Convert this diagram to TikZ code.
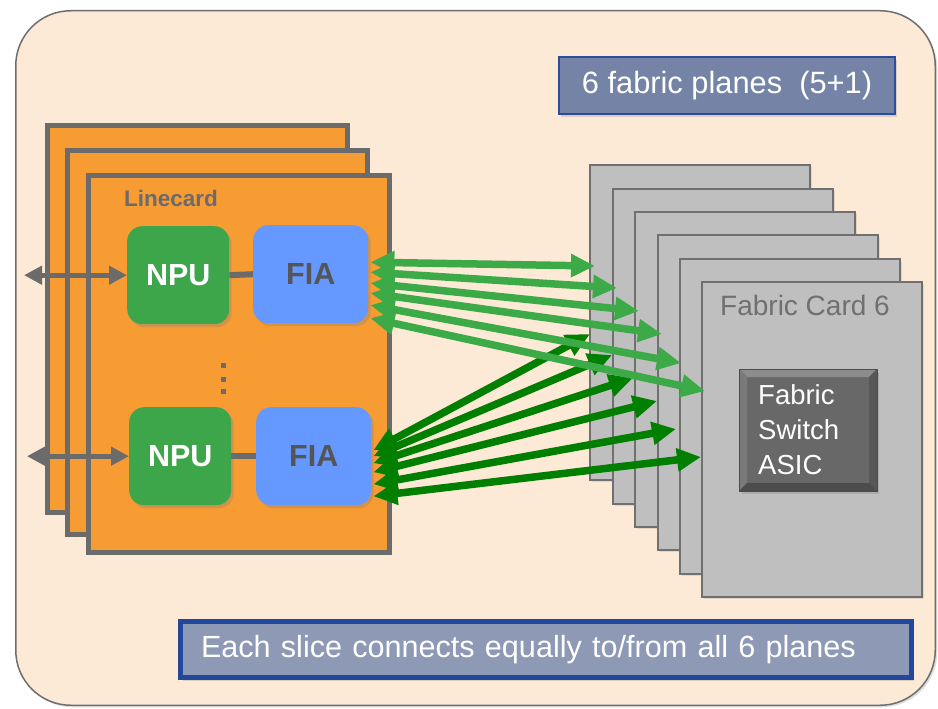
\documentclass[tikz,border=0pt]{standalone}
\usepackage{fontspec}
\setmainfont{Liberation Sans}
\usetikzlibrary{arrows.meta,shadows,calc}

\definecolor{pagebg}{HTML}{FCEAD6}
\definecolor{framegray}{HTML}{6E6E6E}
\definecolor{cardorange}{HTML}{F79B33}
\definecolor{cardedge}{HTML}{6B6B6B}
\definecolor{npugreen}{HTML}{3EA64A}
\definecolor{fiablue}{HTML}{6699FF}
\definecolor{fiatext}{HTML}{555555}
\definecolor{fabgray}{HTML}{BFBFBF}
\definecolor{fabedge}{HTML}{707070}
\definecolor{asicface}{HTML}{686868}
\definecolor{slatefill}{HTML}{7584A6}
\definecolor{slateedge}{HTML}{2C4C9C}
\definecolor{notefill}{HTML}{8E99B6}
\definecolor{noteedge}{HTML}{23479A}
\definecolor{lightlink}{HTML}{3DAA48}
\definecolor{darklink}{HTML}{007F00}

\tikzset{
  px/.style={font=\fontsize{#1}{#1}\selectfont},
  outerframe/.style={draw=framegray, line width=1.5pt, fill=pagebg, rounded corners=55pt,
    anchor=north west, inner sep=0pt,
    drop shadow={shadow xshift=2pt, shadow yshift=-2pt, opacity=.25}},
  linecard/.style={draw=cardedge, line width=5pt, fill=cardorange, anchor=north west,
    inner sep=0pt, minimum width=300pt},
  chip/.style={rounded corners=15pt, anchor=north west, inner sep=0pt,
    font=\fontsize{30.5}{30.5}\selectfont\bfseries,
    drop shadow={shadow xshift=2.5pt, shadow yshift=-3pt, opacity=.3}},
  fabcard/.style={draw=fabedge, line width=2pt, fill=fabgray, anchor=north west,
    inner sep=0pt, minimum width=220pt, minimum height=315pt,
    drop shadow={shadow xshift=2pt, shadow yshift=-2pt, opacity=.2}},
  slicewire/.style={draw=cardedge, line width=6pt},
  graylink/.style={draw=cardedge, line width=5pt,
    {Triangle[length=18pt,width=18pt]}-{Triangle[length=18pt,width=18pt]}},
  fablink/.style={line width=7.5pt,
    {Triangle[length=24pt,width=22pt]}-{Triangle[length=24pt,width=22pt]}},
  labelbox/.style={anchor=north west, inner sep=0pt, text=white,
    drop shadow={shadow xshift=2pt, shadow yshift=-3pt, opacity=.25}}
}

\begin{document}
\begin{tikzpicture}[x=1pt,y=-1pt]
\useasboundingbox (0,0) rectangle (938,709);
\fill[white] (0,0) rectangle (938,709);

% chassis outline
\node[outerframe, minimum width=919.5pt, minimum height=694.5pt] (chassis) at (15,10) {};

% stacked linecards
\node[linecard, minimum height=387pt] (lc3) at (45,123) {};
\node[linecard, minimum height=384pt] (lc2) at (65,148) {};
\node[linecard, minimum width=301pt, minimum height=377pt] (lc1) at (86,173) {};
\node[anchor=base west, inner sep=0pt, text=cardedge, font=\fontsize{22.5}{22.5}\selectfont\bfseries]
  (lclabel) at (124,206) {Linecard};

% slices
\node[chip, fill=npugreen, text=white, minimum width=102pt, minimum height=98pt] (npu1) at (127,226) {NPU};
\node[chip, fill=fiablue, text=fiatext, minimum width=115pt, minimum height=98pt] (fia1) at (253,225) {FIA};
\node[chip, fill=npugreen, text=white, minimum width=102pt, minimum height=98pt] (npu2) at (129,407) {NPU};
\node[chip, fill=fiablue, text=fiatext, minimum width=115pt, minimum height=98pt] (fia2) at (256,407) {FIA};

\draw[slicewire] (npu1.east) -- (fia1.west);
\draw[slicewire] (npu2.east) -- (fia2.west);

\coordinate (io1) at ($(npu1.west)+(-103,0)$);
\coordinate (io2) at ($(npu2.west)+(-102,0)$);
\draw[graylink] (io1) -- (npu1.west);
\draw[graylink] (io2) -- (npu2.west);

% vertical ellipsis between slices
\foreach \yy in {365.5,379,391.5}
  \fill[cardedge] (220.5,\yy-2.5) rectangle (225.5,\yy+2.5);

% fabric cards
\foreach \i/\xx/\yy in {1/589/164, 2/612/188, 3/634/211, 4/657/234, 5/679/258, 6/701/281}
  \node[fabcard] (fc\i) at (\xx,\yy) {};

\node[anchor=base west, inner sep=0pt, text=fabedge, px=28] (fclabel) at (720,315) {Fabric Card 6};

% switch ASIC with bevelled edge
\node[draw=black!70, line width=1pt, fill=asicface, anchor=north west, inner sep=0pt,
  minimum width=137pt, minimum height=121pt,
  drop shadow={shadow xshift=2pt, shadow yshift=-3pt, opacity=.3}] (asic) at (739,369) {};
\fill[black!45] (asic.north west) -- (asic.north east) -- ($(asic.north east)+(-8,8)$) -- ($(asic.north west)+(8,8)$) -- cycle;
\fill[black!52] (asic.north west) -- ($(asic.north west)+(8,8)$) -- ($(asic.south west)+(8,-8)$) -- (asic.south west) -- cycle;
\fill[black!66] (asic.north east) -- ($(asic.north east)+(-8,8)$) -- ($(asic.south east)+(-8,-8)$) -- (asic.south east) -- cycle;
\fill[black!70] (asic.south west) -- ($(asic.south west)+(8,-8)$) -- ($(asic.south east)+(-8,-8)$) -- (asic.south east) -- cycle;
\draw[black!70, line width=1pt] (asic.north west) rectangle (asic.south east);
\node[anchor=west, inner sep=0pt, text=white, align=left, font=\fontsize{27.5}{35}\selectfont]
  (asictext) at ($(asic.west)+(19,0)$) {Fabric\\Switch\\ASIC};

% links from the lower slice (drawn first, underneath)
\foreach \i/\sy/\ex/\ey in {1/-6/1/170, 2/0/0/167, 3/7/-1/167, 4/16/0/167, 5/28/-3/171, 6/40/0/176}
  \draw[fablink, darklink] ($(fia2.east)+(2,\sy)$) -- ($(fc\i.north west)+(\ex,\ey)$);

% links from the upper slice
\foreach \i/\sy/\ex/\ey in {1/-12/6/102, 2/-2/5/100, 3/9/5/100, 4/19/5/100, 5/31/2/105, 6/44/4/110}
  \draw[fablink, lightlink] ($(fia1.east)+(2,\sy)$) -- ($(fc\i.north west)+(\ex,\ey)$);

% captions
\node[labelbox, draw=slateedge, line width=2pt, fill=slatefill, minimum width=336pt,
  minimum height=57pt, px=30.8] (planes) at (558,56) {6 fabric planes~ (5+1)};
\node[labelbox, draw=noteedge, line width=5pt, fill=notefill, minimum height=56pt,
  text width=690pt, inner xsep=20.5pt, align=left, px=30.6] (note) at (178,619)
  {Each slice connects equally to/from all 6 planes};
\end{tikzpicture}
\end{document}
